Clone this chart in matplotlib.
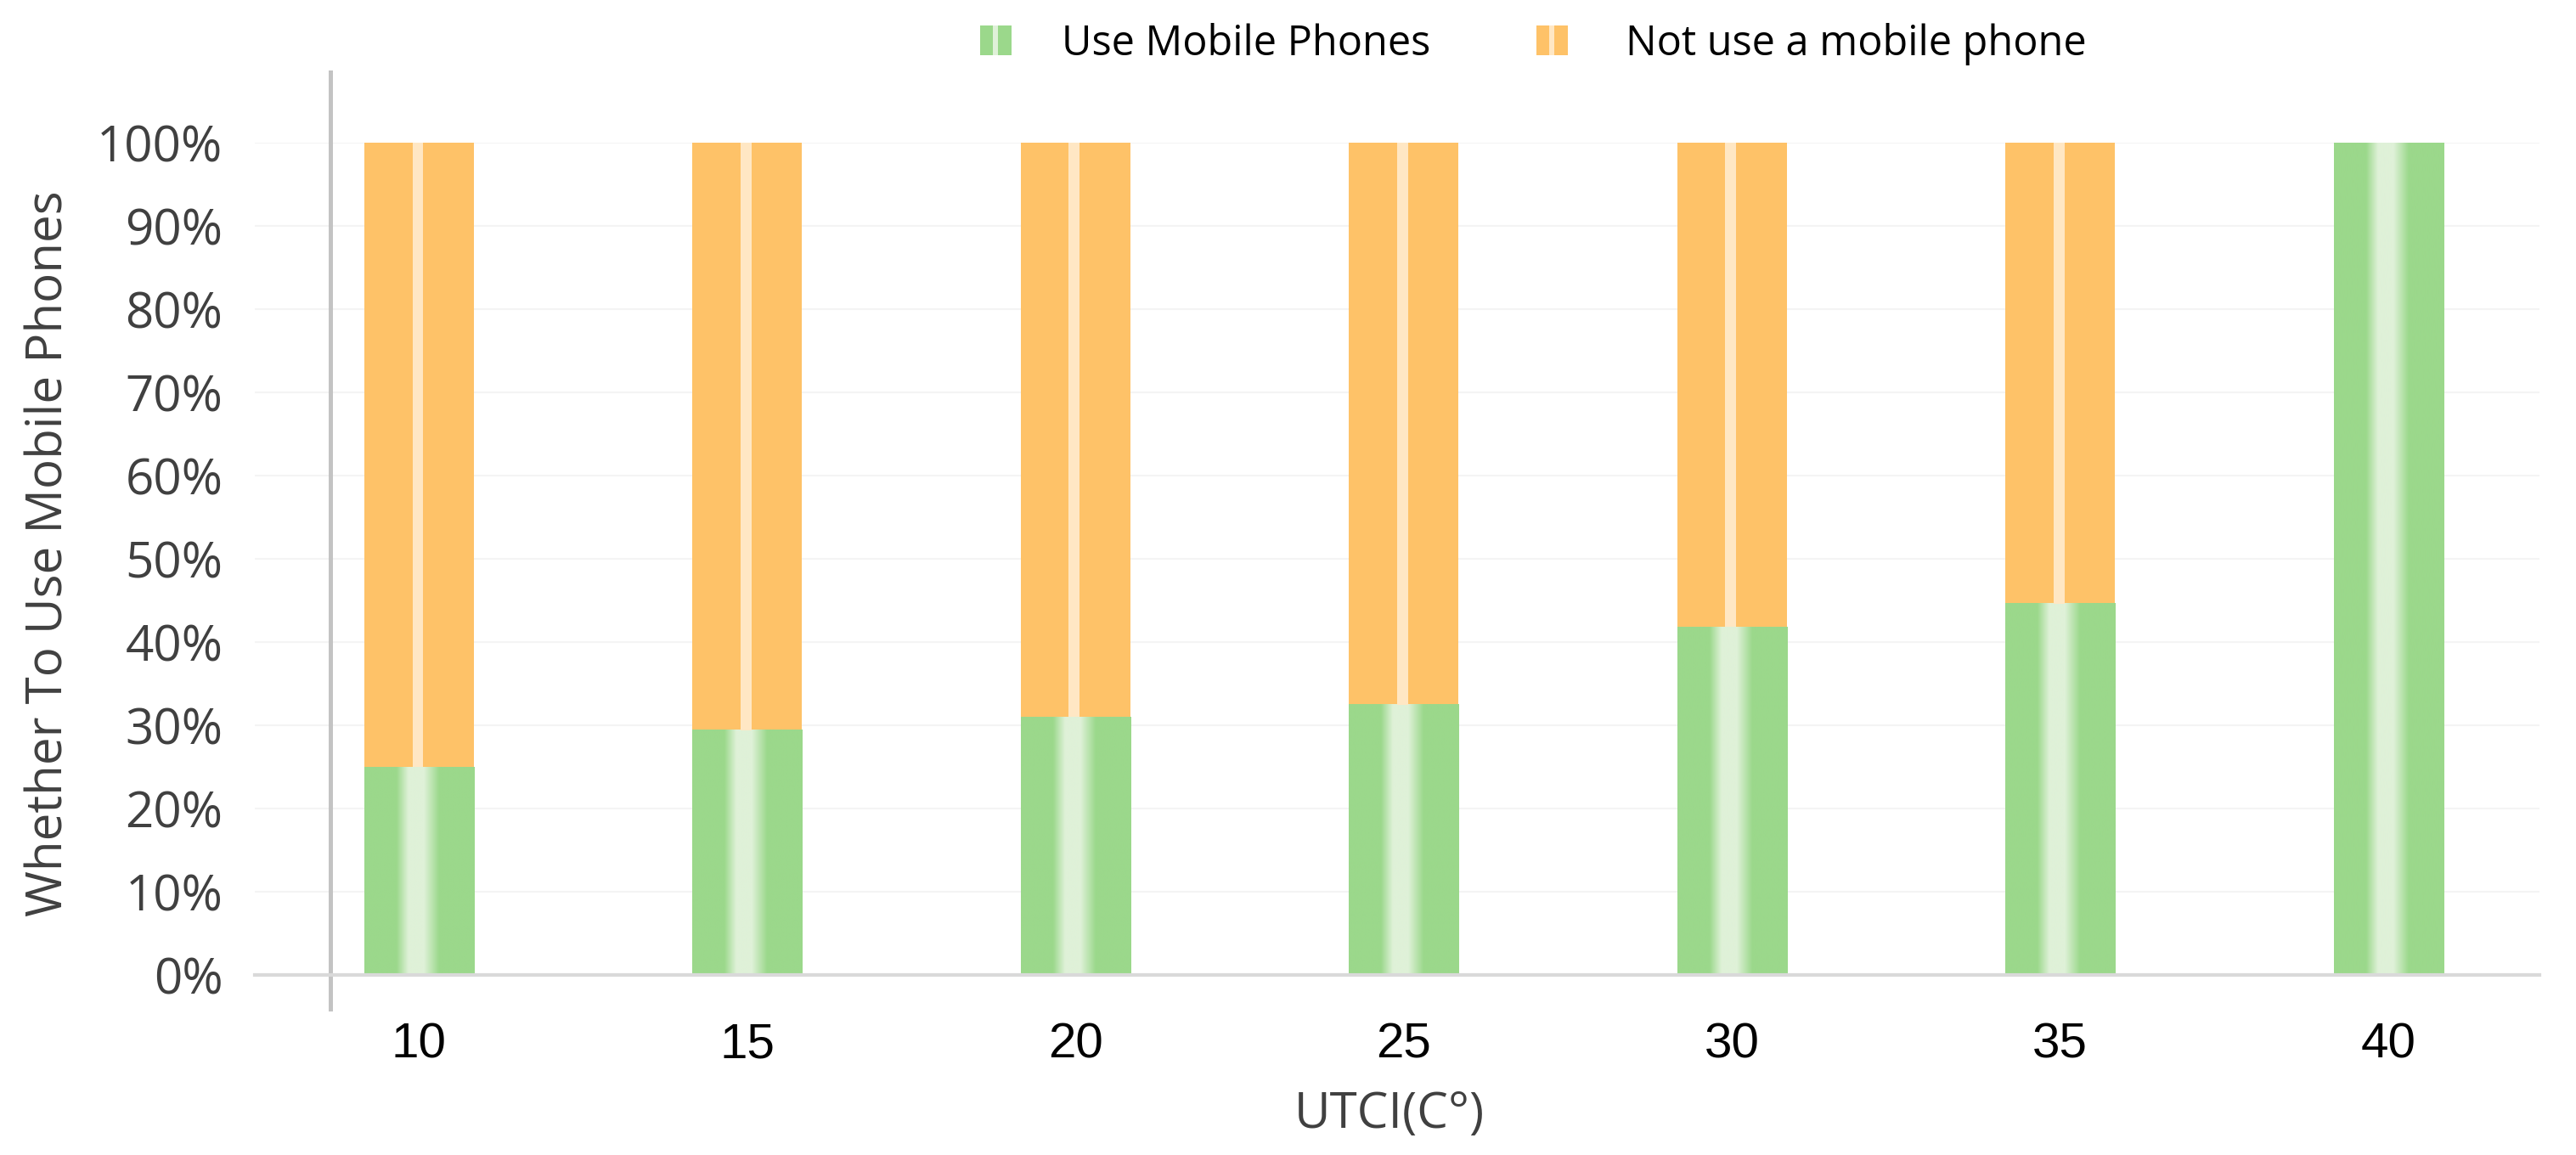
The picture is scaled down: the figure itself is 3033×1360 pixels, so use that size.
import numpy as np
import matplotlib
matplotlib.use("Agg")
import matplotlib.pyplot as plt
from matplotlib.patches import Rectangle
from matplotlib.colors import to_rgb

# data
temps = ["10", "15", "20", "25", "30", "35", "40"]
use_phone = [0.25, 0.294, 0.31, 0.325, 0.418, 0.446, 1.0]
not_use = [0.75, 0.706, 0.69, 0.675, 0.582, 0.554, 0.0]
yticks = [0, 0.1, 0.2, 0.3, 0.4, 0.5, 0.6, 0.7, 0.8, 0.9, 1.0]
ytick_labels = ["0%", "10%", "20%", "30%", "40%", "50%", "60%", "70%", "80%", "90%", "100%"]

GREEN = "#9bd88b"
GREEN_LIGHT = "#dff1d8"
ORANGE = "#fec268"
ORANGE_LIGHT = "#ffe7c4"

W, H = 3033, 1360
fig = plt.figure(figsize=(W / 100, H / 100), dpi=100)
ax = fig.add_axes([300 / W, 1 - 1148 / H, 2690 / W, 980 / H])

x = np.arange(len(temps))
bw = 0.334

ax.bar(x, use_phone, bw, color=GREEN, linewidth=0, zorder=2)
ax.bar(x, not_use, bw, bottom=use_phone, color=ORANGE, linewidth=0, zorder=2)

# soft light stripe on the green part
pos = np.linspace(0, 1, 200)
t = np.interp(pos, [0, 0.29, 0.40, 0.54, 0.68, 1], [0, 0, 1, 1, 0, 0])
g = np.array(to_rgb(GREEN))
gl = np.array(to_rgb(GREEN_LIGHT))
grad = ((1 - t)[:, None] * g + t[:, None] * gl)[None, :, :]
for xi, h in zip(x, use_phone):
    ax.imshow(grad, extent=(xi - bw / 2, xi + bw / 2, 0, h), aspect="auto",
              interpolation="bilinear", zorder=3)

# sharp light stripe on the orange part
ax.bar(x - bw / 2 + 0.44 * bw, not_use, 0.10 * bw, bottom=use_phone, align="edge",
       color=ORANGE_LIGHT, linewidth=0, zorder=3)

ax.set_xlim(-0.5, 6.46)
ax.set_ylim(0, 1.0)
ax.set_yticks(yticks)
ax.set_yticklabels(ytick_labels, fontfamily="Open Sans", fontsize=42, color="#404040")
ax.set_xticks(x)
ax.set_xticklabels(temps, fontfamily="Liberation Sans", fontsize=42, color="black")
ax.tick_params(axis="y", length=0, pad=27)
ax.tick_params(axis="x", length=0, pad=40)

ax.grid(axis="y", color="#f4f4f4", linewidth=1.5, zorder=0)
ax.set_axisbelow(True)
for s in ["top", "right", "left"]:
    ax.spines[s].set_visible(False)
ax.spines["bottom"].set_color("#d9d9d9")
ax.spines["bottom"].set_linewidth(3)
ax.spines["bottom"].set_zorder(4)

# separate grey vertical axis line
ax.axvline(-0.27, ymin=-0.041, ymax=1.085, color="#c3c3c3", linewidth=3.6, clip_on=False, zorder=4)

fig.text(1636 / W, 1 - 1313 / H, "UTCI(C°)", fontfamily="Open Sans", fontsize=42,
         color="#404040", ha="center", va="center")
fig.text(58 / W, 1 - 652 / H, "Whether To Use Mobile Phones", fontfamily="Open Sans",
         fontsize=42, color="#404040", ha="center", va="center", rotation=90)

# legend at top
legend_items = [("Use Mobile Phones", GREEN, GREEN_LIGHT, 1154, 1250),
                ("Not use a mobile phone", ORANGE, ORANGE_LIGHT, 1809, 1914)]
for label, c, cl, mx, tx in legend_items:
    fig.add_artist(Rectangle((mx / W, 1 - 65 / H), 37 / W, 35 / H, transform=fig.transFigure,
                             facecolor=c, edgecolor="none"))
    fig.add_artist(Rectangle(((mx + 15) / W, 1 - 65 / H), 6 / W, 35 / H, transform=fig.transFigure,
                             facecolor=cl, edgecolor="none"))
    fig.text(tx / W, 1 - 52 / H, label, fontfamily="Open Sans", fontsize=35,
             color="black", ha="left", va="center")

fig.savefig("out.png", dpi=100, facecolor="white")
